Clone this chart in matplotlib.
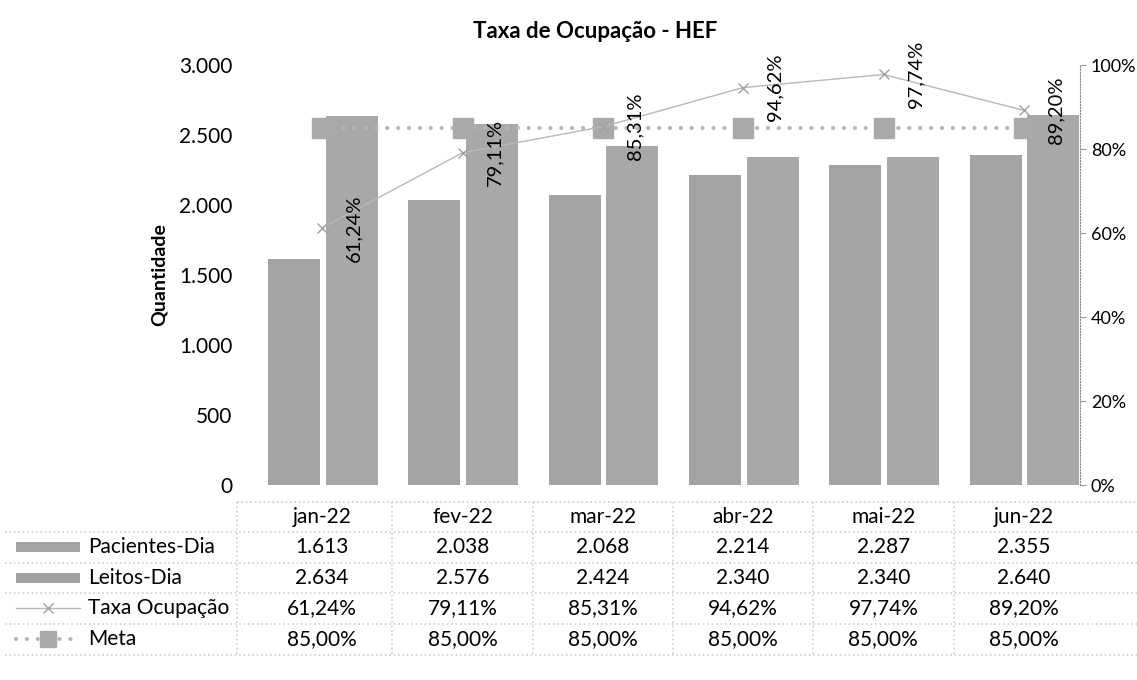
import numpy as np
import matplotlib.pyplot as plt
from matplotlib.lines import Line2D
from matplotlib.patches import Rectangle

plt.rcParams['font.family'] = ['Lato', 'DejaVu Sans']

meses = ['jan-22', 'fev-22', 'mar-22', 'abr-22', 'mai-22', 'jun-22']
pacientes = [1613, 2038, 2068, 2214, 2287, 2355]
leitos = [2634, 2576, 2424, 2340, 2340, 2640]
taxa = [61.24, 79.11, 85.31, 94.62, 97.74, 89.20]
meta = [85.00, 85.00, 85.00, 85.00, 85.00, 85.00]

W, H = 1137, 680
def fx(px):
    return px / W
def fy(py):
    return 1 - py / H

def br(v, dec=0):
    s = f'{v:,.{dec}f}'
    return s.replace(',', '#').replace('.', ',').replace('#', '.')

fig = plt.figure(figsize=(11.37, 6.8), dpi=100)
ax = fig.add_axes([fx(252), fy(485), fx(1094) - fx(252), fy(65) - fy(485)])
ax2 = ax.twinx()

x = np.arange(len(meses))
bar_c = '#a3a3a3'
ax.bar(x - 0.2, pacientes, width=0.37, color=bar_c, zorder=2)
ax.bar(x + 0.21, leitos, width=0.37, color='#a8a8a8', zorder=2)
ax.set_xlim(-0.5, 5.5)
ax.set_ylim(0, 3000)
ax.set_yticks([0, 500, 1000, 1500, 2000, 2500, 3000])
ax.set_yticklabels([br(v) for v in [0, 500, 1000, 1500, 2000, 2500, 3000]])
ax.tick_params(axis='y', length=0, pad=14, labelsize=15)
ax.set_xticks([])
for s in ['top', 'left', 'bottom', 'right']:
    ax.spines[s].set_visible(False)
ax.set_ylabel('Quantidade', fontsize=14, fontweight='bold', labelpad=8)

ax2.set_ylim(0, 100)
ax2.set_zorder(ax.get_zorder() + 1)
ax2.patch.set_visible(False)
meta_c = '#a9a9a9'
meta_ls = (0, (0.01, 2.6))
ax2.plot(x, meta, linestyle=meta_ls, color='#b5b5b5', linewidth=3.0,
         dash_capstyle='round', marker='s', markersize=15, markerfacecolor=meta_c,
         markeredgecolor=meta_c, zorder=1)
ax2.plot(x, taxa, color='#b8b8b8', linewidth=1.0, marker='x', markersize=7,
         markeredgecolor='#a0a0a0', zorder=3)
for xi, t in zip(x, taxa):
    ax2.annotate(br(t, 2) + '%', (xi, t), xytext=(23, 0), textcoords='offset points',
                 rotation=90, ha='center', va='center', fontsize=14.5, zorder=4)
ax2.set_yticks([0, 20, 40, 60, 80, 100])
ax2.set_yticklabels([f'{v}%' for v in [0, 20, 40, 60, 80, 100]])
for s in ['top', 'left', 'bottom']:
    ax2.spines[s].set_visible(False)
ax2.spines['right'].set_position(('axes', 0.983))
ax2.spines['right'].set_linestyle(':')
ax2.spines['right'].set_color('#888888')
ax2.tick_params(axis='y', length=4, color='#999999', pad=4, labelsize=13)

fig.text(0.5235, fy(32), 'Taxa de Ocupação - HEF', ha='center', va='center',
         fontsize=16, fontweight='bold')

# tabela de dados
grid_c = '#cfcfcf'
row_lines = [502, 532, 563, 593, 624, 655]
for i, ry in enumerate(row_lines):
    x0 = fx(237) if i == 0 else fx(5)
    fig.add_artist(Line2D([x0, fx(1137)], [fy(ry), fy(ry)], color=grid_c,
                          linestyle=':', linewidth=1.2))
for cx in [237] + [252 + 140.3 * k for k in range(1, 6)]:
    fig.add_artist(Line2D([fx(cx), fx(cx)], [fy(502), fy(655)], color=grid_c,
                          linestyle=':', linewidth=1.2))

cols = [252 + 140.3 * (k + 0.5) for k in range(6)]
for cxp, m in zip(cols, meses):
    fig.text(fx(cxp), fy(517), m, ha='center', va='center', fontsize=15)

linhas = [
    ('Pacientes-Dia', [br(v) for v in pacientes]),
    ('Leitos-Dia', [br(v) for v in leitos]),
    ('Taxa Ocupação', [br(v, 2) + '%' for v in taxa]),
    ('Meta', [br(v, 2) + '%' for v in meta]),
]
row_y = [547, 578, 608, 639]
for (nome, vals), ry in zip(linhas, row_y):
    fig.text(fx(88), fy(ry), nome, ha='left', va='center', fontsize=15)
    for cxp, v in zip(cols, vals):
        fig.text(fx(cxp), fy(ry), v, ha='center', va='center', fontsize=15)

# chaves da legenda
for ry in row_y[:2]:
    fig.add_artist(Rectangle((fx(16), fy(ry + 5)), fx(64), fy(ry - 5) - fy(ry + 5),
                             facecolor=bar_c, edgecolor='none', transform=fig.transFigure))
fig.add_artist(Line2D([fx(16), fx(80)], [fy(row_y[2]), fy(row_y[2])], color='#b8b8b8',
                      linewidth=1.0))
fig.add_artist(Line2D([fx(48)], [fy(row_y[2])], marker='x', markersize=7,
                      markeredgecolor='#a0a0a0', linestyle='none'))
fig.add_artist(Line2D([fx(16), fx(80)], [fy(row_y[3]), fy(row_y[3])], color='#b5b5b5',
                      linestyle=meta_ls, linewidth=3.0, dash_capstyle='round'))
fig.add_artist(Line2D([fx(48)], [fy(row_y[3])], marker='s', markersize=12,
                      markerfacecolor=meta_c, markeredgecolor=meta_c, linestyle='none'))

plt.savefig('out.png', dpi=100)
